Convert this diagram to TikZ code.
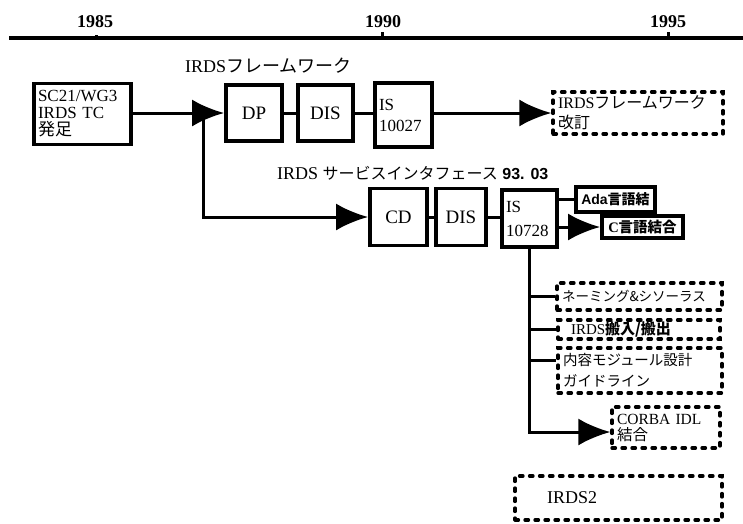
\documentclass[tikz,border=0pt]{standalone}
\usepackage{fontspec}
\setmainfont{Liberation Serif}
\newfontfamily\jp{Noto Sans CJK JP}
\newfontfamily\sansfam{Liberation Sans}
\usetikzlibrary{arrows.meta}
\newcommand\jtext[1]{{\jp #1}}
\newcommand\fsz[2]{\fontsize{#1}{#2}\selectfont}
\begin{document}
\begin{tikzpicture}[x=1pt,y=-1pt,
  sbox/.style={draw, line width=3.8pt, inner xsep=4pt, inner ysep=1pt, align=left},
  dbox/.style={draw, line width=3.3pt, dash pattern=on 3.5pt off 6.5pt, line cap=round, inner xsep=5pt, inner ysep=1pt, align=left},
  conn/.style={line width=3pt},
  arr/.style={conn, -{Latex[length=32pt,width=27pt]}},
  lbl/.style={inner sep=0pt, anchor=west}]
\useasboundingbox (0,0) rectangle (743,523);
% timeline
\draw[line width=3.5pt] (9,38) -- (743,38);
\draw[line width=3pt] (96,38) -- (96,35);
\draw[line width=3pt] (382,38) -- (382,32);
\draw[line width=3pt] (668,38) -- (668,32);
\node[inner sep=0pt, font=\fsz{18}{20}\bfseries] (y85) at (95,21.5) {1985};
\node[inner sep=0pt, font=\fsz{18}{20}\bfseries] (y90) at (383,21.5) {1990};
\node[inner sep=0pt, font=\fsz{18}{20}\bfseries] (y95) at (668,21.5) {1995};
% labels
\node[lbl, font=\fsz{18}{20}] (fw) at (185,66) {IRDS\jtext{フレームワーク}};
\node[lbl, font=\fsz{18}{20}] (si) at (277,173) {IRDS \jtext{\fontsize{16}{18}\selectfont サービスインタフェース} {\sansfam\bfseries\fontsize{16}{18}\selectfont 93. 03}};
% first row
\node[sbox, minimum width=97pt, text width=89pt, minimum height=61pt, font=\fsz{17}{17}] (sc) at (82.5,114) {SC21/WG3\\IRDS TC\\\jtext{発足}};
\node[sbox, minimum width=56pt, minimum height=56pt, align=center, font=\fsz{19}{21}] (dp) at (254,113) {DP};
\node[sbox, minimum width=55pt, minimum height=56pt, align=center, font=\fsz{19}{21}] (dis1) at (325.5,113) {DIS};
\node[sbox, minimum width=57pt, text width=49pt, minimum height=64pt, font=\fsz{17}{21}] (is1) at (403.5,115) {IS\\10027\\[4pt]};
\node[dbox, minimum width=170pt, text width=160pt, minimum height=42pt, font=\fsz{16}{20}] (fwr) at (638,113) {IRDS\jtext{フレームワーク}\\\jtext{改訂}};
% second row
\node[sbox, minimum width=57pt, minimum height=57pt, align=center, font=\fsz{19}{21}] (cd) at (398.5,217) {CD};
\node[sbox, minimum width=50pt, minimum height=57pt, align=center, font=\fsz{19}{21}] (dis2) at (461,217) {DIS};
\node[sbox, minimum width=55pt, text width=47pt, minimum height=57pt, font=\fsz{17}{24}] (is2) at (529.5,218.5) {IS\\10728\\[6pt]};
\node[sbox, minimum width=79pt, minimum height=25pt, inner ysep=0pt, align=center, font=\fsz{14}{16}\bfseries] (ada) at (615.5,199.5) {{\sansfam Ada}\jtext{言語結}};
\node[sbox, minimum width=81pt, minimum height=22pt, inner ysep=0pt, align=center, font=\fsz{14.5}{16}\bfseries] (cb) at (642.5,227) {C\jtext{言語結合}};
% branches
\node[dbox, minimum width=165pt, text width=155pt, minimum height=27pt, font=\fsz{13.5}{16}] (nm) at (639.5,296.5) {\jtext{ネーミング\&シソーラス}};
\node[dbox, minimum width=162pt, text width=152pt, minimum height=19pt, inner ysep=0pt, font=\fsz{15}{16}] (io) at (639,329.5) {\hspace*{8pt}IRDS\jtext{\bfseries 搬入/搬出}};
\node[dbox, minimum width=164pt, text width=154pt, minimum height=45pt, font=\fsz{14.5}{21}] (mg) at (640,370.5) {\jtext{内容モジュール設計}\\\jtext{ガイドライン}};
\node[dbox, minimum width=108pt, text width=98pt, minimum height=41pt, font=\fsz{15.5}{16}] (cor) at (666,427.5) {CORBA IDL\\\jtext{結合}};
\node[dbox, minimum width=207pt, text width=197pt, minimum height=44pt, font=\fsz{18}{20}] (ir2) at (618.5,498) {\hspace*{27pt}IRDS2};
% connectors
\coordinate (j1) at (203,113);
\draw[arr] (sc.east |- dp.west) -- (dp.west);
\draw[conn] (dp.east) -- (dis1.west);
\draw[conn] (dis1.east) -- (is1.west |- dis1.east);
\draw[arr] (is1.east |- fwr.west) -- (fwr.west);
\draw[arr] (j1) |- (cd.west);
\draw[conn] (cd.east) -- (dis2.west);
\draw[conn] (dis2.east) -- (is2.west |- dis2.east);
\draw[conn] (is2.east |- ada.west) -- (ada.west);
\draw[arr] (is2.east |- cb.west) -- (cb.west);
\draw[conn] (is2.south) |- (nm.west);
\draw[conn] (is2.south) |- (io.west);
\draw[conn] (is2.south) |- ([yshift=10pt]mg.west);
\draw[arr] (is2.south) |- ([yshift=-4.5pt]cor.west);
\end{tikzpicture}
\end{document}
